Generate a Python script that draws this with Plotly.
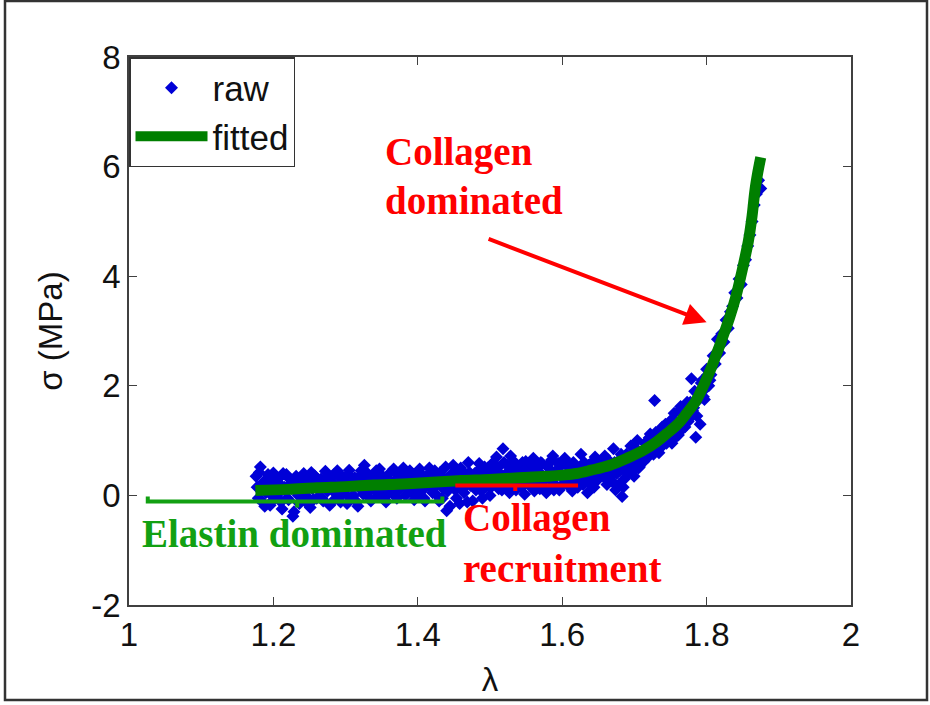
import plotly.graph_objects as go

# ---------------- data ----------------
fit_x = [1.175, 1.22, 1.26, 1.30, 1.34, 1.38, 1.42, 1.46, 1.50, 1.54, 1.58, 1.60, 1.62,
         1.64, 1.666, 1.69, 1.712, 1.73, 1.745, 1.76, 1.772, 1.785, 1.795, 1.805, 1.814,
         1.824, 1.832, 1.84, 1.846, 1.852, 1.858, 1.863, 1.867, 1.871, 1.875]
fit_y = [0.09, 0.11, 0.14, 0.16, 0.19, 0.21, 0.24, 0.27, 0.29, 0.32, 0.35, 0.37, 0.40,
         0.46, 0.55, 0.68, 0.82, 0.97, 1.13, 1.30, 1.49, 1.72, 1.98, 2.28, 2.59,
         2.95, 3.25, 3.60, 3.92, 4.27, 4.65, 5.10, 5.57, 5.90, 6.17]

raw_x = [
    1.176, 1.179, 1.182, 1.185, 1.188, 1.191, 1.194, 1.197, 1.200, 1.203,
    1.206, 1.209, 1.212, 1.215, 1.218, 1.221, 1.224, 1.227, 1.230, 1.233,
    1.236, 1.239, 1.242, 1.245, 1.248, 1.251, 1.254, 1.257, 1.260, 1.263,
    1.266, 1.269, 1.272, 1.275, 1.278, 1.281, 1.284, 1.287, 1.290, 1.293,
    1.296, 1.299, 1.302, 1.305, 1.308, 1.311, 1.314, 1.317, 1.320, 1.323,
    1.326, 1.329, 1.332, 1.335, 1.338, 1.341, 1.344, 1.347, 1.350, 1.353,
    1.356, 1.359, 1.362, 1.365, 1.368, 1.371, 1.374, 1.377, 1.380, 1.383,
    1.386, 1.389, 1.392, 1.395, 1.398, 1.401, 1.404, 1.407, 1.410, 1.413,
    1.416, 1.419, 1.422, 1.425, 1.428, 1.431, 1.434, 1.437, 1.440, 1.443,
    1.446, 1.449, 1.452, 1.455, 1.458, 1.461, 1.464, 1.467, 1.470, 1.473,
    1.476, 1.479, 1.482, 1.485, 1.488, 1.491, 1.494, 1.497, 1.500, 1.503,
    1.506, 1.509, 1.512, 1.515, 1.518, 1.521, 1.524, 1.527, 1.530, 1.533,
    1.536, 1.539, 1.542, 1.545, 1.548, 1.551, 1.554, 1.557, 1.560, 1.563,
    1.566, 1.569, 1.572, 1.575, 1.578, 1.581, 1.584, 1.587, 1.590, 1.593,
    1.596, 1.599, 1.602, 1.605, 1.608, 1.611, 1.614, 1.617, 1.620, 1.623,
    1.626, 1.629, 1.632, 1.635, 1.638, 1.641, 1.644, 1.647, 1.650, 1.653,
    1.656, 1.659, 1.662, 1.665, 1.668, 1.671, 1.674, 1.677, 1.680, 1.683,
    1.686, 1.689, 1.692, 1.695, 1.698, 1.701, 1.704, 1.707, 1.710, 1.713,
    1.716, 1.719, 1.722, 1.725, 1.728, 1.731, 1.734, 1.737, 1.740, 1.743,
    1.746, 1.749, 1.752, 1.755, 1.758, 1.761, 1.764, 1.767, 1.770, 1.773,
    1.776, 1.779, 1.782, 1.785, 1.788, 1.791, 1.794, 1.797, 1.800, 1.803,
    1.806, 1.809, 1.812, 1.815, 1.818, 1.821, 1.824, 1.827, 1.830, 1.833,
    1.836, 1.839, 1.842, 1.845, 1.848, 1.851, 1.854, 1.857, 1.860, 1.863,
    1.866, 1.869, 1.872, 1.875,
    # second pass of samples
    1.1775, 1.1805, 1.1835, 1.1865, 1.1895, 1.1925, 1.1955, 1.1985, 1.2015, 1.2045,
    1.2075, 1.2105, 1.2135, 1.2165, 1.2195, 1.2225, 1.2255, 1.2285, 1.2315, 1.2345,
    1.2375, 1.2405, 1.2435, 1.2465, 1.2495, 1.2525, 1.2555, 1.2585, 1.2615, 1.2645,
    1.2675, 1.2705, 1.2735, 1.2765, 1.2795, 1.2825, 1.2855, 1.2885, 1.2915, 1.2945,
    1.2975, 1.3005, 1.3035, 1.3065, 1.3095, 1.3125, 1.3155, 1.3185, 1.3215, 1.3245,
    1.3275, 1.3305, 1.3335, 1.3365, 1.3395, 1.3425, 1.3455, 1.3485, 1.3515, 1.3545,
    1.3575, 1.3605, 1.3635, 1.3665, 1.3695, 1.3725, 1.3755, 1.3785, 1.3815, 1.3845,
    1.3875, 1.3905, 1.3935, 1.3965, 1.3995, 1.4025, 1.4055, 1.4085, 1.4115, 1.4145,
    1.4175, 1.4205, 1.4235, 1.4265, 1.4295, 1.4325, 1.4355, 1.4385, 1.4415, 1.4445,
    1.4475, 1.4505, 1.4535, 1.4565, 1.4595, 1.4625, 1.4655, 1.4685, 1.4715, 1.4745,
    1.4775, 1.4805, 1.4835, 1.4865, 1.4895, 1.4925, 1.4955, 1.4985, 1.5015, 1.5045,
    1.5075, 1.5105, 1.5135, 1.5165, 1.5195, 1.5225, 1.5255, 1.5285, 1.5315, 1.5345,
    1.5375, 1.5405, 1.5435, 1.5465, 1.5495, 1.5525, 1.5555, 1.5585, 1.5615, 1.5645,
    1.5675, 1.5705, 1.5735, 1.5765, 1.5795, 1.5825, 1.5855, 1.5885, 1.5915, 1.5945,
    1.5975, 1.6005, 1.6035, 1.6065, 1.6095, 1.6125, 1.6155, 1.6185, 1.6215, 1.6245,
    1.6275, 1.6305, 1.6335, 1.6365, 1.6395, 1.6425, 1.6455, 1.6485, 1.6515, 1.6545,
    1.6575, 1.6605, 1.6635, 1.6665, 1.6695, 1.6725, 1.6755, 1.6785, 1.6815, 1.6845,
    1.6875, 1.6905, 1.6935, 1.6965, 1.6995, 1.7025, 1.7055, 1.7085, 1.7115, 1.7145,
    1.7175, 1.7205, 1.7235, 1.7265, 1.7295, 1.7325, 1.7355, 1.7385, 1.7415, 1.7445,
    1.7475, 1.7505, 1.7535, 1.7565, 1.7595, 1.7625, 1.7655, 1.7685, 1.7715, 1.7745,
    1.7775, 1.7805, 1.7835, 1.7865, 1.7895, 1.7925, 1.7955, 1.7985, 1.8015, 1.8045,
]
raw_y = [
    0.35, -0.05, 0.52, 0.12, -0.20, 0.28, 0.05, -0.12, 0.41, 0.18,
    0.02, 0.33, -0.25, 0.15, 0.38, -0.08, 0.22, -0.38, 0.10, 0.30,
    -0.15, 0.20, 0.40, 0.00, 0.26, -0.22, 0.12, 0.36, -0.05, 0.19,
    0.30, -0.10, 0.44, 0.08, -0.18, 0.25, 0.38, 0.02, 0.16, -0.12,
    0.34, 0.10, -0.15, 0.46, 0.20, 0.00, 0.30, -0.20, 0.12, 0.40,
    0.55, 0.05, 0.25, -0.10, 0.35, 0.18, -0.02, 0.48, 0.22, 0.08,
    -0.12, 0.30, 0.42, 0.10, 0.20, -0.05, 0.36, 0.15, 0.50, 0.00,
    0.25, 0.45, 0.05, -0.08, 0.32, 0.18, 0.40, 0.10, -0.10, 0.28,
    0.50, 0.15, 0.35, 0.02, 0.22, 0.42, -0.05, 0.30, -0.28, 0.12,
    0.38, 0.55, 0.10, 0.25, -0.15, 0.45, 0.05, 0.30, 0.60, 0.18,
    -0.10, 0.40, 0.22, 0.58, 0.08, 0.35, 0.15, 0.50, 0.00, 0.28,
    0.45, 0.70, 0.12, 0.38, 0.85, 0.20, 0.55, 0.05, 0.30, 0.62,
    0.10, 0.42, 0.25, 0.60, 0.02, 0.35, 0.50, 0.15, 0.68, 0.30,
    0.45, 0.12, 0.58, 0.28, 0.05, 0.50, 0.38, 0.72, 0.20, 0.42,
    0.10, 0.55, 0.30, 0.62, 0.18, 0.45, 0.08, 0.50, 0.25, 0.35,
    0.75, 0.20, 0.50, 0.05, 0.35, 0.60, 0.15, 0.42, 0.30, 0.62,
    0.40, 0.72, 0.20, 0.55, 0.35, 0.85, 0.10, 0.62, 0.45, -0.02,
    0.30, 0.75, 0.55, 0.90, 0.45, 0.68, 1.00, 0.52, 0.80, 0.62,
    0.95, 0.70, 1.12, 0.85, 1.73, 1.00, 0.78, 1.20, 0.92, 1.30,
    1.05, 1.35, 0.95, 1.50, 1.20, 1.10, 1.62, 1.35, 1.25, 1.70,
    1.40, 2.13, 1.60, 1.06, 1.85, 1.30, 2.10, 1.75, 2.30, 2.00,
    2.20, 2.55, 2.40, 2.85, 2.60, 2.95, 2.80, 3.20, 3.05, 3.35,
    3.45, 3.70, 3.60, 3.95, 3.85, 4.20, 4.30, 4.55, 4.75, 5.00,
    5.30, 5.50, 5.75, 5.60,
    # second pass of samples
    0.15, 0.42, -0.10, 0.25, 0.05, 0.38, -0.18, 0.20, 0.30, -0.02,
    0.22, -0.12, 0.40, 0.08, -0.05, 0.30, 0.12, -0.30, 0.35, 0.00,
    0.32, 0.05, -0.10, 0.28, 0.15, 0.42, -0.08, 0.20, 0.30, 0.10,
    -0.05, 0.20, 0.10, 0.35, 0.26, -0.10, 0.12, 0.45, -0.02, 0.30,
    0.05, 0.25, 0.38, -0.05, 0.15, 0.32, -0.12, 0.28, 0.45, 0.02,
    0.30, 0.40, -0.05, 0.20, 0.10, 0.45, 0.28, 0.00, 0.35, -0.08,
    0.25, 0.05, 0.20, 0.48, -0.02, 0.32, 0.12, 0.40, 0.22, 0.30,
    0.10, 0.30, 0.38, 0.15, 0.00, 0.48, 0.22, -0.05, 0.35, 0.20,
    0.30, 0.05, 0.45, 0.20, -0.10, 0.35, 0.12, 0.52, 0.08, -0.20,
    0.20, 0.40, -0.05, 0.32, 0.50, 0.12, 0.28, -0.12, 0.42, 0.25,
    0.30, 0.10, 0.45, 0.20, -0.05, 0.52, 0.25, 0.38, 0.15, 0.60,
    0.25, 0.50, 0.35, 0.10, 0.60, 0.40, 0.18, 0.72, 0.45, 0.20,
    0.52, 0.30, 0.15, 0.45, 0.62, 0.22, 0.40, 0.55, 0.08, 0.48,
    0.25, 0.60, 0.35, 0.15, 0.55, 0.30, 0.65, 0.10, 0.45, 0.58,
    0.40, 0.20, 0.68, 0.35, 0.50, 0.25, 0.60, 0.38, 0.15, 0.52,
    0.40, 0.60, 0.30, 0.55, 0.20, 0.45, 0.70, 0.28, 0.55, 0.40,
    0.55, 0.30, 0.65, 0.45, 0.25, 0.60, 0.40, 0.20, 0.75, 0.15,
    0.55, 0.40, 0.70, 0.60, 0.35, 0.85, 0.50, 0.72, 0.65, 0.95,
    0.80, 1.05, 0.90, 0.75, 1.15, 1.00, 0.88, 1.25, 1.10, 0.95,
    1.25, 1.15, 1.40, 1.05, 1.30, 1.55, 1.20, 1.45, 1.60, 1.35,
    1.70, 1.55, 1.90, 1.45, 1.75, 2.05, 1.80, 1.95, 2.20, 2.10,
]

x_ticks = [1, 1.2, 1.4, 1.6, 1.8, 2]
x_tick_labels = ["1", "1.2", "1.4", "1.6", "1.8", "2"]
y_ticks = [-2, 0, 2, 4, 6, 8]
y_tick_labels = ["-2", "0", "2", "4", "6", "8"]

# brackets (data coordinates)
elastin_x = [1.026, 1.026, 1.233, 1.233, 1.233, 1.434, 1.434]
elastin_y = [-0.02, -0.11, -0.11, -0.22, -0.11, -0.11, -0.02]
recruit_x = [1.452, 1.535, 1.535, 1.535, 1.622]
recruit_y = [0.18, 0.18, 0.08, 0.18, 0.18]

SANS = "Liberation Sans, Arial, sans-serif"
SERIF = "Liberation Serif, Times New Roman, serif"
RED = "#ff0000"
LBL_GREEN = "#12a012"

fig = go.Figure()

fig.add_trace(go.Scatter(
    x=raw_x, y=raw_y, mode="markers", name="raw",
    marker=dict(symbol="diamond", size=10, color="rgb(0,0,215)",
                line=dict(width=0)),
))
fig.add_trace(go.Scatter(
    x=fit_x, y=fit_y, mode="lines", name="fitted",
    line=dict(color="#007f00", width=11, shape="spline"),
))
fig.add_trace(go.Scatter(
    x=elastin_x, y=elastin_y, mode="lines", showlegend=False, hoverinfo="skip",
    line=dict(color=LBL_GREEN, width=4),
))
fig.add_trace(go.Scatter(
    x=recruit_x, y=recruit_y, mode="lines", showlegend=False, hoverinfo="skip",
    line=dict(color=RED, width=4),
))

annots = [
    dict(x=1.352, y=6.26, text="Collagen"),
    dict(x=1.352, y=5.38, text="dominated"),
    dict(x=1.46, y=-0.42, text="Collagen"),
    dict(x=1.46, y=-1.33, text="recruitment"),
]
for a in annots:
    fig.add_annotation(x=a["x"], y=a["y"], text=a["text"], showarrow=False,
                       xanchor="left", yanchor="middle",
                       font=dict(family=SERIF, size=39, color=RED, weight="bold"))
fig.add_annotation(x=1.015, y=-0.69, text="Elastin dominated", showarrow=False,
                   xanchor="left", yanchor="middle",
                   font=dict(family=SERIF, size=39, color=LBL_GREEN, weight="bold"))
fig.add_annotation(x=1.80, y=3.16, ax=1.496, ay=4.69, axref="x", ayref="y",
                   xref="x", yref="y", text="", showarrow=True,
                   arrowhead=2, arrowsize=1.1, arrowwidth=4, arrowcolor=RED)

# outer picture frame
fig.add_shape(type="rect", xref="paper", yref="paper",
              x0=(5 - 129) / 722, x1=(927 - 129) / 722,
              y0=(605 - 700) / 548, y1=(605 - 1) / 548,
              line=dict(color="#333333", width=2.5), fillcolor="rgba(0,0,0,0)",
              layer="below")

axis_common = dict(
    showgrid=False, zeroline=False, showline=True, linecolor="#404040",
    linewidth=1.5, mirror="ticks", ticks="inside", ticklen=8, tickwidth=1.2,
    tickcolor="#404040", tickfont=dict(family=SANS, size=33, color="#111111"),
)

fig.update_layout(
    width=930, height=705,
    margin=dict(l=129, r=79, t=57, b=100),
    paper_bgcolor="white", plot_bgcolor="white",
    showlegend=True,
    legend=dict(x=0, y=1, xanchor="left", yanchor="top",
                bgcolor="white", bordercolor="#333333", borderwidth=1.5,
                font=dict(family=SANS, size=35, color="#111111"),
                itemwidth=72, tracegroupgap=0),
    xaxis=dict(range=[1, 2], tickvals=x_ticks, ticktext=x_tick_labels,
               title=dict(text="λ", font=dict(family=SANS, size=33, color="#111111"),
                          standoff=16),
               **axis_common),
    yaxis=dict(range=[-2, 8], tickvals=y_ticks, ticktext=y_tick_labels,
               title=dict(text="σ (MPa)", font=dict(family=SANS, size=33, color="#111111"),
                          standoff=19),
               **axis_common),
)

fig.write_html(
    "out.html",
    config={"displayModeBar": False},
    post_script="document.body.style.margin='0';document.body.style.overflow='hidden';",
)
